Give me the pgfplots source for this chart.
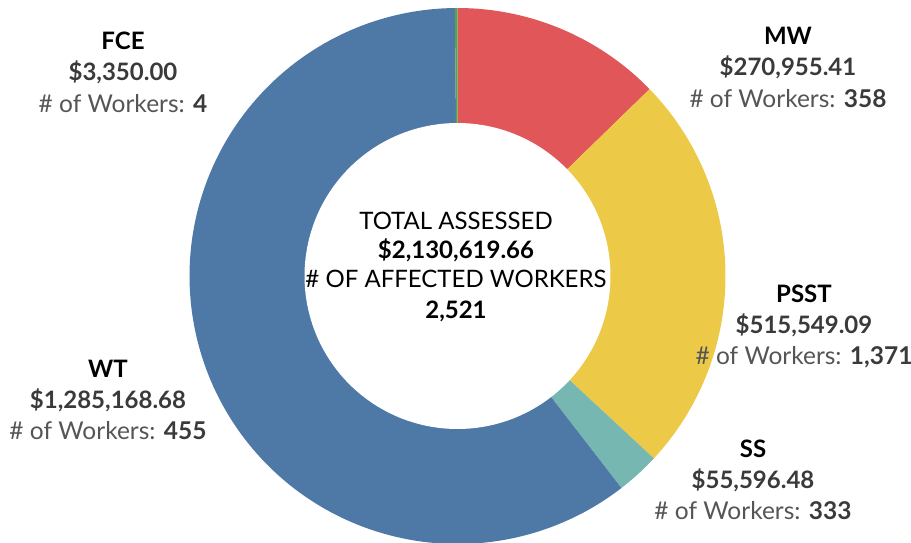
\documentclass[border=0pt]{standalone}
\usepackage{pgfplots}
\usepackage{pgfplotstable}
\pgfplotsset{compat=1.18}
\usepackage{fontspec}
\setmainfont{Lato}

\definecolor{c0}{HTML}{E15759}
\definecolor{c1}{HTML}{EDC948}
\definecolor{c2}{HTML}{76B7B2}
\definecolor{c3}{HTML}{4E79A7}
\definecolor{c4}{HTML}{59A14F}
\definecolor{amt}{HTML}{3A3A3A}
\definecolor{wrk}{HTML}{555555}

% amounts assessed and affected workers, clockwise from the top
\pgfplotstableread{
label amount workers
MW 270955.41 358
PSST 515549.09 1371
SS 55596.48 333
WT 1285168.68 455
FCE 3350.00 4
}\donutdata

\def\total{0}
\pgfplotstableforeachcolumnelement{amount}\of\donutdata\as\val{\xdef\total{\fpeval{\total+\val}}}
\def\cum{0}
\pgfplotstableforeachcolumnelement{amount}\of\donutdata\as\val{%
  \expandafter\xdef\csname s\pgfplotstablerow\endcsname{\fpeval{360*\cum/\total}}%
  \xdef\cum{\fpeval{\cum+\val}}%
  \expandafter\xdef\csname e\pgfplotstablerow\endcsname{\fpeval{360*\cum/\total}}%
}

\newcommand\fs{\fontsize{24}{29}\selectfont}
\newcommand\fw{\fontsize{24.5}{29}\selectfont}
\newcommand\lbl[6]{%
  \node[anchor=base, font=\fs\bfseries, text=black] at (axis cs:#1,#2) {#3};
  \node[anchor=base, font=\fs\bfseries, text=amt] at (axis cs:#1,#2+31) {#4};
  \node[anchor=base, font=\fw, text=wrk] at (axis cs:#1,#2+62) {\# of Workers: {\bfseries\color{amt}#5}};
}

\begin{document}
\begin{tikzpicture}
\useasboundingbox (0,0) rectangle (911pt,543pt);
\begin{axis}[
  at={(0,0)}, anchor=south west,
  x=1pt, y=1pt,
  xmin=0, xmax=911, ymin=0, ymax=543,
  y dir=reverse,
  hide axis, clip=false,
]
\pgfplotsinvokeforeach{0,...,4}{
  \expandafter\let\expandafter\sa\csname s#1\endcsname
  \expandafter\let\expandafter\ea\csname e#1\endcsname
  \addplot[fill=c#1, draw=none, domain=\sa:\ea, samples=150]
    ({457.5+268*sin(x)}, {276-268*cos(x)}) -- (axis cs:457.5,276) -- cycle;
}
\addplot[fill=white, draw=none, domain=0:360, samples=200]
  ({457.5+153*sin(x)}, {276-153*cos(x)}) -- cycle;

\lbl{123}{50}{FCE}{\$3,350.00}{4}{}
\lbl{788}{45}{MW}{\$270,955.41}{358}{}
\lbl{804}{302}{PSST}{\$515,549.09}{1,371}{}
\lbl{753}{457}{SS}{\$55,596.48}{333}{}
\lbl{108}{377}{WT}{\$1,285,168.68}{455}{}

\node[anchor=base, font=\fs, text=black] at (axis cs:456,229) {TOTAL ASSESSED};
\node[anchor=base, font=\fs\bfseries, text=black] at (axis cs:456,258) {\$2,130,619.66};
\node[anchor=base, font=\fs, text=black] at (axis cs:456,287) {\# OF AFFECTED WORKERS};
\node[anchor=base, font=\fs\bfseries, text=black] at (axis cs:456,318) {2,521};
\end{axis}
\end{tikzpicture}
\end{document}
